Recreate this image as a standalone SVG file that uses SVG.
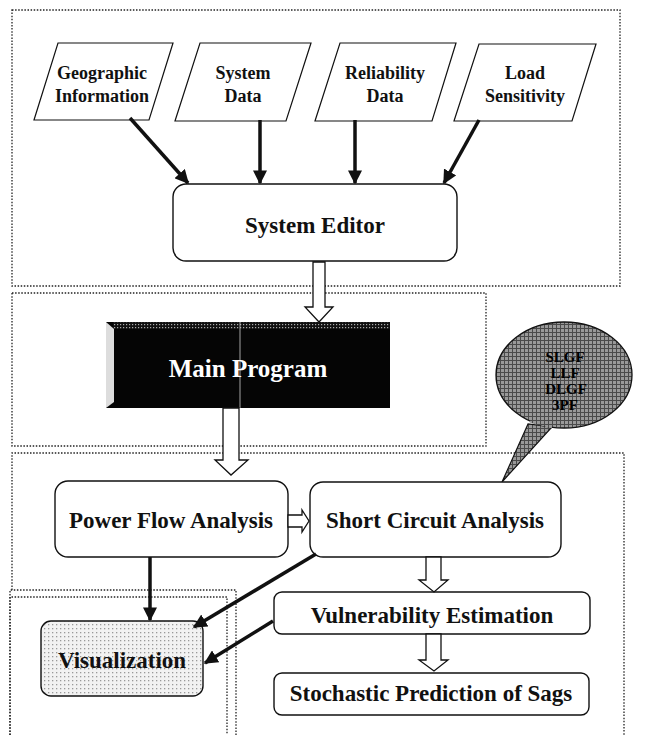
<svg xmlns="http://www.w3.org/2000/svg" width="646" height="735" viewBox="0 0 646 735">
<defs>
<style>
.grp{fill:none;stroke:#222;stroke-width:1.3;stroke-dasharray:1.5 1.6}
.box{fill:#fff;stroke:#111;stroke-width:1.4}
.para{fill:#fff;stroke:#111;stroke-width:1.2}
.t{font-family:"Liberation Serif","Times New Roman",serif;font-weight:bold;fill:#111;text-anchor:middle}
.s18{font-size:18px}
.s23{font-size:23px}
.conn{stroke:#111;stroke-width:3.5;fill:none;marker-end:url(#ah)}
.blk{fill:#fff;stroke:#111;stroke-width:1.3;stroke-linejoin:miter}
</style>
<marker id="ah" markerWidth="4" markerHeight="4" refX="3.6" refY="2" orient="auto" markerUnits="strokeWidth">
<path d="M0,0 L4,2 L0,4 Z" fill="#111"/>
</marker>
<pattern id="dots" width="4" height="4" patternUnits="userSpaceOnUse">
<rect width="4" height="4" fill="#f2f2f2"/>
<rect x="0" y="0" width="1.3" height="1.3" fill="#999"/>
</pattern>
<pattern id="hatch" width="4" height="4" patternUnits="userSpaceOnUse">
<rect width="4" height="4" fill="#999"/>
<rect x="0" y="0" width="4" height="1" fill="#4a4a4a"/>
<rect x="0" y="0" width="1" height="4" fill="#4a4a4a"/>
</pattern>
<pattern id="topstrip" width="3" height="3" patternUnits="userSpaceOnUse">
<rect width="3" height="3" fill="#111"/>
<rect x="0" y="0" width="1.2" height="1.2" fill="#aaa"/>
</pattern>
</defs>

<g id="groups">
<rect class="grp" x="12" y="10" width="608" height="276"/>
<rect class="grp" x="12" y="293" width="474" height="153"/>
<path class="grp" d="M10,735 L10,590 L236,590 L236,735 M12,590 L12,453 L624,453 L624,735"/>
<path class="grp" d="M10,735 L10,597 L227,597 L227,735"/>
</g>

<g id="geographic">
<polygon class="para" points="58,43 173,43 149,120 34,120"/>
<text class="t s18" x="102" y="79">Geographic</text>
<text class="t s18" x="102" y="102">Information</text>
</g>
<g id="systemdata">
<polygon class="para" points="200,43 311,43 286,121 175,121"/>
<text class="t s18" x="243" y="79">System</text>
<text class="t s18" x="243" y="102">Data</text>
</g>
<g id="reliability">
<polygon class="para" points="340,43 456,43 432,121 315,121"/>
<text class="t s18" x="385" y="79">Reliability</text>
<text class="t s18" x="385" y="102">Data</text>
</g>
<g id="load">
<polygon class="para" points="479,44 596,44 572,121 454,121"/>
<text class="t s18" x="525" y="79">Load</text>
<text class="t s18" x="525" y="102">Sensitivity</text>
</g>

<g id="systemeditor">
<rect class="box" x="173" y="184" width="284" height="77" rx="13"/>
<text class="t" font-size="23" x="315" y="233">System Editor</text>
</g>

<g id="mainprogram">
<rect x="106" y="322" width="284" height="86" fill="#050505"/>
<rect x="113" y="322" width="277" height="7" fill="url(#topstrip)"/>
<polygon points="106,322 114,329 114,402 106,408" fill="#ddd"/>
<line x1="240" y1="322" x2="240" y2="408" stroke="#ccc" stroke-width="0.8"/>
<text class="t" font-size="25" style="fill:#fff" x="248" y="377">Main Program</text>
</g>

<g id="bubble">
<path d="M528,424 L502,482 L552,427 Z" fill="url(#hatch)" stroke="#111" stroke-width="1.2"/>
<ellipse cx="564" cy="375" rx="68" ry="53" fill="url(#hatch)" stroke="#111" stroke-width="1.3"/>
<path d="M530,421 L552,427" stroke="url(#hatch)" stroke-width="3"/>
<text class="t" font-size="15" style="fill:#000" x="565" y="362">SLGF</text>
<text class="t" font-size="15" style="fill:#000" x="565" y="378">LLF</text>
<text class="t" font-size="15" style="fill:#000" x="566" y="394">DLGF</text>
<text class="t" font-size="15" style="fill:#000" x="565" y="410">3PF</text>
</g>

<g id="powerflow">
<rect class="box" x="55" y="481" width="233" height="76" rx="13"/>
<text class="t s23" x="171" y="528">Power Flow Analysis</text>
</g>
<g id="shortcircuit">
<rect class="box" x="310" y="482" width="251" height="75" rx="13"/>
<text class="t s23" x="435" y="528">Short Circuit Analysis</text>
</g>
<g id="vulnerability">
<rect class="box" x="274" y="592" width="316" height="42" rx="8"/>
<text class="t s23" x="432" y="623">Vulnerability Estimation</text>
</g>
<g id="stochastic">
<rect class="box" x="274" y="673" width="315" height="42" rx="8"/>
<text class="t s23" x="431" y="701">Stochastic Prediction of Sags</text>
</g>
<g id="visualization">
<rect x="41" y="621" width="162" height="75" rx="10" fill="url(#dots)" stroke="#111" stroke-width="1.4"/>
<text class="t s23" x="122" y="668">Visualization</text>
</g>

<g id="connectors">
<line class="conn" x1="130" y1="118" x2="188" y2="183"/>
<line class="conn" x1="260" y1="120" x2="260" y2="183"/>
<line class="conn" x1="355" y1="120" x2="355" y2="183"/>
<line class="conn" x1="479" y1="120" x2="444" y2="183"/>
<polygon class="blk" points="313,262 325,262 325,307 333,307 319,322 305,307 313,307"/>
<polygon class="blk" points="223,408 239,408 239,460 248,460 231,475 215,460 223,460"/>
<polygon class="blk" points="288,515 302,515 302,510 309,521 302,532 302,527 288,527"/>
<polygon class="blk" points="426,557 441,557 441,580 448,580 434,592 419,580 426,580"/>
<polygon class="blk" points="426,634 441,634 441,660 448,660 434,671 419,660 426,660"/>
<line class="conn" x1="150" y1="557" x2="150" y2="620"/>
<line class="conn" x1="316" y1="554" x2="194" y2="627"/>
<line class="conn" x1="273" y1="621" x2="205" y2="663"/>
</g>
</svg>
